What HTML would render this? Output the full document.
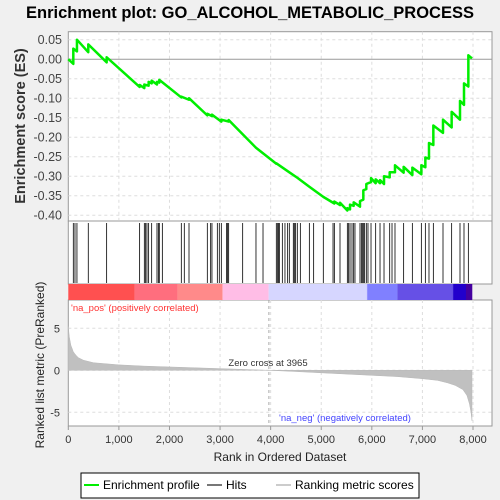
<!DOCTYPE html>
<html><head><meta charset="utf-8"><style>
html,body{margin:0;padding:0;background:#f0f0f0;width:500px;height:500px;overflow:hidden}
svg{display:block;font-family:"Liberation Sans","DejaVu Sans",sans-serif}
</style></head><body>
<svg id="chart" width="500" height="500" viewBox="0 0 500 500" xmlns="http://www.w3.org/2000/svg">
<rect x="0" y="0" width="500" height="500" fill="#f0f0f0"/>
<text x="250" y="18" text-anchor="middle" font-size="16.5" font-weight="bold" fill="#000">Enrichment plot: GO_ALCOHOL_METABOLIC_PROCESS</text>
<rect x="68.3" y="31.7" width="423.7" height="189.3" fill="#fff" stroke="#999"/>
<rect x="68.3" y="221" width="423.7" height="63" fill="#fff" stroke="#999"/>
<rect x="68.3" y="300" width="423.7" height="126" fill="#fff" stroke="#999"/>
<g id="grid"></g>
<g id="colorbar"></g>
<g id="metric"></g>
<g id="hits"></g>
<g id="es"></g>
<g id="axes"></g>
<text transform="translate(25,126) rotate(-90)" text-anchor="middle" font-size="14.5" font-weight="bold" fill="#333">Enrichment score (ES)</text>
<text transform="translate(44,365) rotate(-90)" text-anchor="middle" font-size="12" fill="#222">Ranked list metric (PreRanked)</text>
<text x="280" y="461" text-anchor="middle" font-size="12" fill="#222">Rank in Ordered Dataset</text>
<text x="71" y="311" font-size="9.5" fill="#ff3333">'na_pos' (positively correlated)</text>
<text x="279" y="421" font-size="9.5" fill="#4444ff">'na_neg' (negatively correlated)</text>
<text x="268" y="366" text-anchor="middle" font-size="9.5" fill="#333">Zero cross at 3965</text>
<g>
<rect x="81" y="473" width="338" height="25" fill="#fff" stroke="#000"/>
<line x1="84" y1="485" x2="99" y2="485" stroke="#00ee00" stroke-width="2"/>
<text x="103" y="489" font-size="12" fill="#000">Enrichment profile</text>
<line x1="207" y1="485" x2="222" y2="485" stroke="#777" stroke-width="2"/>
<text x="226" y="489" font-size="12" fill="#000">Hits</text>
<line x1="276" y1="485" x2="291" y2="485" stroke="#ccc" stroke-width="2"/>
<text x="295" y="489" font-size="12" fill="#000">Ranking metric scores</text>
</g>
</svg>
<script>
const N = 7980;
const xTicks = [0,1000,2000,3000,4000,5000,6000,7000,8000];
const xTickLabels = ["0","1,000","2,000","3,000","4,000","5,000","6,000","7,000","8,000"];
const esTicks = [0.05,0,-0.05,-0.1,-0.15,-0.2,-0.25,-0.3,-0.35,-0.4];
const esTickLabels = ["0.05","0.00","-0.05","-0.10","-0.15","-0.20","-0.25","-0.30","-0.35","-0.40"];
const metricTicks = [5,0,-5];
const hitRanks = [99,132,171,395,758,1410,1503,1529,1555,1588,1648,1753,1780,1799,1859,2234,2293,2386,2748,2814,2840,2946,2985,3025,3130,3150,3170,3447,3710,3849,4112,4139,4158,4172,4231,4283,4336,4369,4448,4468,4494,4527,4587,4765,4850,5041,5233,5259,5371,5516,5542,5569,5608,5641,5667,5766,5793,5819,5832,5858,5891,5924,5984,6076,6162,6241,6353,6399,6458,6629,6801,6979,7058,7130,7216,7407,7578,7743,7822,7908];
const esRanks = [0,99,99,171,171,395,395,758,758,1410,1410,1503,1503,1588,1588,1648,1648,1753,1753,1799,1799,2234,2234,2386,2386,2748,2748,2840,2840,3025,3025,3170,3170,3710,4112,4112,4369,4527,4765,5041,5259,5259,5371,5371,5516,5516,5569,5569,5641,5641,5766,5766,5832,5832,5891,5891,5984,5984,6076,6076,6162,6162,6241,6241,6353,6353,6458,6458,6629,6629,6801,6801,6979,6979,7058,7058,7130,7130,7216,7216,7407,7407,7578,7578,7743,7743,7822,7822,7908,7908,7980];
const esValues = [0,-0.012,0.027,0.020,0.05,0.018,0.038,-0.008,0.005,-0.071,-0.066,-0.074,-0.065,-0.068,-0.058,-0.062,-0.055,-0.065,-0.058,-0.060,-0.053,-0.098,-0.096,-0.104,-0.100,-0.144,-0.140,-0.146,-0.142,-0.160,-0.155,-0.160,-0.156,-0.227,-0.268,-0.267,-0.290,-0.304,-0.327,-0.353,-0.370,-0.365,-0.374,-0.368,-0.388,-0.382,-0.385,-0.373,-0.376,-0.367,-0.378,-0.364,-0.360,-0.336,-0.333,-0.320,-0.315,-0.305,-0.318,-0.308,-0.318,-0.310,-0.320,-0.300,-0.303,-0.290,-0.290,-0.272,-0.291,-0.276,-0.297,-0.278,-0.295,-0.272,-0.277,-0.252,-0.255,-0.215,-0.220,-0.170,-0.189,-0.155,-0.175,-0.135,-0.155,-0.107,-0.117,-0.062,-0.070,0.010,0.002];
const metricRanks = [0,20,50,100,150,200,300,500,1000,1500,2000,2500,3000,3500,3965,4500,5000,5500,6000,6500,7000,7300,7500,7650,7800,7880,7930,7960,7980];
const metricValues = [5.2,4.0,3.0,2.2,1.8,1.5,1.2,0.9,0.65,0.5,0.4,0.3,0.2,0.1,0,-0.15,-0.3,-0.45,-0.6,-0.75,-1.0,-1.2,-1.5,-1.8,-2.3,-3.0,-4.0,-5.0,-6.0];
const colorStops = [[0,"#ff5050"],[1300,"#ff5a5a"],[1310,"#ff6e7e"],[2150,"#ff7a86"],[2160,"#ff8a8a"],[3040,"#ff9898"],[3050,"#ffbde6"],[3950,"#ffc4e8"],[3960,"#d6d6ff"],[5900,"#c8c4ff"],[5910,"#8080ff"],[6500,"#7a74f4"],[6510,"#6650e6"],[7600,"#5a44dc"],[7610,"#2200cc"],[7850,"#2200cc"],[7860,"#44009e"],[7980,"#44009e"]];

const NS="http://www.w3.org/2000/svg";
const X0=68.3, X1=473;
const xs = r => X0 + r*(X1-X0)/8000;
const yES = v => 59.2 - v*(19.5/0.05);
const yM = v => 370.3 - v*8.4;
function mk(tag, parent, attrs){const e=document.createElementNS(NS,tag);for(const k in attrs)e.setAttribute(k,attrs[k]);document.getElementById(parent).appendChild(e);return e;}

// grid
xTicks.forEach((t,i)=>{
  if(i===0) return;
  const g1=mk('line','grid',{x1:xs(t),x2:xs(t),y1:31.7,y2:221,stroke:'#ddd','stroke-dasharray':'3,3'});
  
  
  const g2=mk('line','grid',{x1:xs(t),x2:xs(t),y1:300,y2:426,stroke:'#ddd','stroke-dasharray':'3,3'});
  
  
});
esTicks.forEach((t,i)=>{
  const g=mk('line','grid',{x1:68.3,x2:492,y1:yES(t),y2:yES(t),stroke:t===0?'#999':'#ddd','stroke-dasharray':t===0?'':'3,3'});
  
  
  const tl=mk('text','axes',{x:62,y:yES(t)+4.5,'text-anchor':'end','font-size':'12.5',fill:'#444'});
  tl.textContent=esTickLabels[i];
  
  
});
metricTicks.forEach(t=>{
  const g=mk('line','grid',{x1:68.3,x2:492,y1:yM(t),y2:yM(t),stroke:'#ddd','stroke-dasharray':'3,3'});
  
  
  const tl=mk('text','axes',{x:60,y:yM(t)+4,'text-anchor':'end','font-size':'11',fill:'#333'});
  tl.textContent=String(t);
  
  
});
xTicks.forEach((t,i)=>{
  const tl=mk('text','axes',{x:xs(t),y:443,'text-anchor':'middle','font-size':'11',fill:'#333'});
  tl.textContent=xTickLabels[i];
  
  
  const tk=mk('line','axes',{x1:xs(t),x2:xs(t),y1:426,y2:430,stroke:'#999'});
  
  
});
// zero cross line
const zc=mk('line','grid',{x1:xs(3965),x2:xs(3965),y1:300,y2:426,stroke:'#aaa','stroke-dasharray':'3,3'});



// color bar
for(let i=0;i<colorStops.length-1;i++){
  const r=mk('rect','colorbar',{x:xs(colorStops[i][0]),y:284,width:Math.max(0.5,xs(colorStops[i+1][0])-xs(colorStops[i][0])+0.3),height:16,fill:colorStops[i][1]});
  
  
}

// metric area
let d='M'+xs(metricRanks[0])+','+yM(0);
metricRanks.forEach((r,i)=>{d+=' L'+xs(r).toFixed(2)+','+yM(metricValues[i]).toFixed(2);});
d+=' L'+xs(metricRanks[metricRanks.length-1])+','+yM(0)+' Z';
const ma=mk('path','metric',{d:d,fill:'#c0c0c0',stroke:'#b8b8b8','stroke-width':'0.5'});



// hits
hitRanks.forEach(r=>{
  const l=mk('line','hits',{x1:xs(r),x2:xs(r),y1:223,y2:283,stroke:'#000','stroke-width':'0.8'});
  
  
});

// ES line
let p='';
esRanks.forEach((r,i)=>{p+=(i?' L':'M')+xs(r).toFixed(2)+','+yES(esValues[i]).toFixed(2);});
const el=mk('path','es',{d:p,fill:'none',stroke:'#00ee00','stroke-width':'2.5','stroke-linejoin':'round'});


</script>
</body></html>
